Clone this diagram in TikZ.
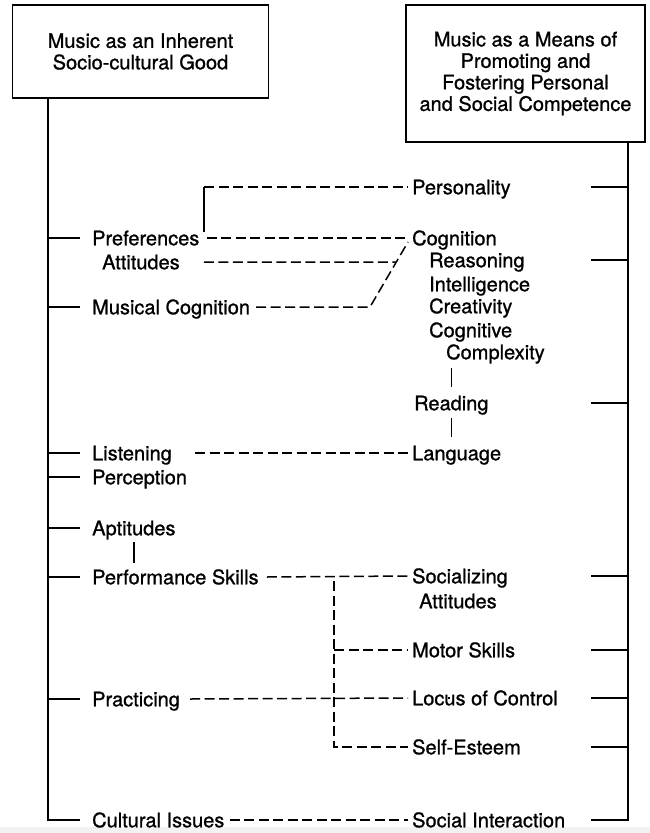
\documentclass[tikz,border=0pt]{standalone}
\usepackage{fontspec}
\setmainfont{TeX Gyre Heros}[FakeBold=1]
\usetikzlibrary{calc}

\begin{document}
\begin{tikzpicture}[x=1pt,y=-1pt,font=\fontsize{20pt}{21.5pt}\selectfont]
  \tikzstyle{heading}=[draw, line width=1.5pt, align=center, inner sep=0pt]
  \tikzstyle{item}=[anchor=west, inner xsep=4pt, inner ysep=0pt, text height=14.5pt, text depth=0pt]
  \tikzstyle{spine}=[line width=2.2pt]
  \tikzstyle{link}=[line width=1.5pt, dash pattern=on 10pt off 4.5pt]
  \tikzstyle{bar}=[line width=1.5pt]
  \useasboundingbox (0,0) rectangle (650,833);
  \fill[black!5] (0,827) rectangle (650,833);

  \node[heading, minimum width=256pt, minimum height=93pt] (good) at (140.5,51.5)
    {Music as an Inherent\\Socio-cultural Good};
  \node[heading, minimum width=239pt, minimum height=137pt] (means) at (525.5,73.5)
    {Music as a Means of\\Promoting and\\Fostering Personal\\and Social Competence};

  % left column
  \foreach \n/\t/\y in {pref/Preferences/238, mcog/Musical Cognition/307,
      listen/Listening/453, percep/Perception/477, apt/Aptitudes/528,
      perf/Performance Skills/577, pract/Practicing/699, cult/Cultural Issues/820} {
    \node[item] (\n) at (88,\y) {\t};
  }
  \node[item] (att) at (98,262) {Attitudes};

  % right column
  \foreach \n/\t/\x/\y in {pers/Personality/408/187, cog/Cognition/408/238,
      reas/Reasoning/425/260, intel/Intelligence/425/284, creat/Creativity/425/306,
      cogn/Cognitive/425/330, cplx/Complexity/442/352, read/Reading/410/403,
      lang/Language/408/453, soc/Socializing/408/576, socatt/Attitudes/415/601,
      motor/Motor Skills/408/650, locus/Locus of Control/408/698,
      self/Self-Esteem/408/747, inter/Social Interaction/408/820} {
    \node[item] (\n) at (\x,\y) {\t};
  }

  % spines
  \coordinate (lsp) at ($(good.south west)+(36,0)$);
  \coordinate (rsp) at ($(means.south east)+(-18,0)$);
  \draw[spine] (lsp) |- ($(cult.west)+(-8,0)$);
  \draw[spine] (rsp) |- ($(rsp |- inter.west)+(-37,0)$);
  \foreach \n in {pref,mcog,listen,percep,apt,perf,pract} {
    \draw[spine] (lsp |- \n.west) -- ($(\n.west)+(-8,0)$);
  }
  \foreach \n in {pers,reas,read,soc,motor,locus,self} {
    \draw[spine] (rsp |- \n.west) -- ($(rsp |- \n.west)+(-37,0)$);
  }

  % solid links
  \coordinate (pj) at (204,187);
  \draw[bar] (pj) -- ++(0,45);
  \draw[bar, shorten <=7pt, shorten >=7pt] (apt.south) -- (apt.south |- perf.north);
  \draw[bar, shorten <=9pt, shorten >=9pt] (read.north) -- (read.north |- cplx.south);
  \draw[bar, shorten <=8pt, shorten >=9pt] (read.south) -- (read.south |- lang.north);
  \draw[bar, shorten <=6pt, shorten >=8pt] ($(locus.south west)+(41,0)$)
    -- ($(locus.south west)+(41,0)$ |- self.north);

  % dashed links
  \coordinate (bend) at (370,307);
  \coordinate (ctop) at (408,242);
  \draw[link] (pj) -- (pers.west);
  \draw[link] ($(pref.east)+(3,0)$) -- (cog.west);
  \draw[link] ($(att.east)+(20,0)$) -- ($(bend)!0.69!(ctop)$);
  \draw[link] ($(mcog.east)+(2,0)$) -- (bend) -- (ctop);
  \draw[link] ($(listen.east)+(19,0)$) -- (lang.west);
  \draw[link] ($(perf.east)+(4,0)$) -- (soc.west);
  \draw[link] ($(pract.east)+(6,0)$) -- (locus.west);
  \draw[link] ($(cult.east)+(1,0)$) -- (inter.west);
  \coordinate (vx) at (334,581);
  \draw[link] (vx) |- (self.west);
  \draw[link] (vx |- motor.west) -- (motor.west);
\end{tikzpicture}
\end{document}
